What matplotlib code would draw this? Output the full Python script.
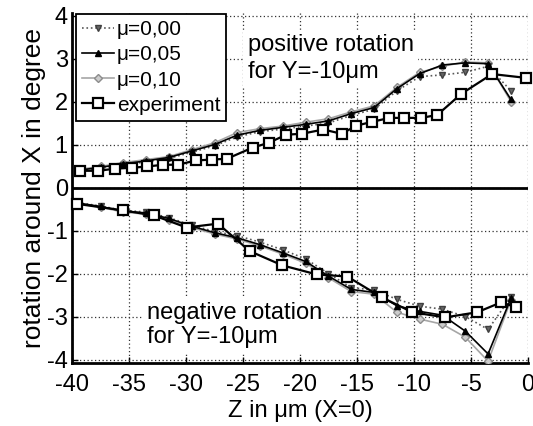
import matplotlib.pyplot as plt
import numpy as np

plt.rcParams['font.family'] = ['Liberation Sans', 'DejaVu Sans']
plt.rcParams['axes.unicode_minus'] = False

# simulation grid (same for all three friction values)
z_sim = [-39.5, -37.5, -35.5, -33.5, -31.5, -29.5, -27.5, -25.5, -23.5, -21.5,
         -19.5, -17.5, -15.5, -13.5, -11.5, -9.5, -7.5, -5.5, -3.5, -1.5]

# positive rotation branch
pos_mu000 = [0.38, 0.45, 0.52, 0.60, 0.68, 0.82, 0.97, 1.18, 1.30, 1.36,
             1.43, 1.50, 1.68, 1.82, 2.25, 2.58, 2.62, 2.68, 2.82, 2.25]
pos_mu005 = [0.40, 0.47, 0.55, 0.62, 0.70, 0.85, 1.00, 1.22, 1.33, 1.40,
             1.47, 1.55, 1.72, 1.86, 2.30, 2.65, 2.85, 2.90, 2.88, 2.05]
pos_mu010 = [0.42, 0.49, 0.58, 0.65, 0.72, 0.88, 1.04, 1.28, 1.37, 1.43,
             1.52, 1.60, 1.76, 1.90, 2.33, 2.68, 2.82, 2.92, 2.90, 2.00]

# negative rotation branch
neg_mu000 = [-0.35, -0.43, -0.53, -0.57, -0.70, -0.88, -1.02, -1.12, -1.27, -1.45,
             -1.66, -2.00, -2.33, -2.38, -2.60, -2.76, -2.83, -3.00, -3.30, -2.55]
neg_mu005 = [-0.36, -0.44, -0.55, -0.59, -0.72, -0.90, -1.05, -1.17, -1.33, -1.52,
             -1.72, -2.06, -2.37, -2.44, -2.75, -2.88, -2.97, -3.34, -3.87, -2.58]
neg_mu010 = [-0.37, -0.46, -0.57, -0.62, -0.75, -0.93, -1.08, -1.20, -1.36, -1.55,
             -1.76, -2.10, -2.42, -2.48, -2.90, -3.06, -3.18, -3.48, -4.04, -2.62]

# experiment
z_exp_pos = [-39.3, -37.7, -36.2, -34.75, -33.4, -32.0, -30.7, -29.15, -27.75, -26.4,
             -24.15, -22.75, -21.2, -19.85, -17.95, -16.35, -15.05, -13.65, -12.15, -10.85,
             -9.35, -7.95, -5.85, -3.15, -0.15]
exp_pos = [0.39, 0.39, 0.44, 0.46, 0.49, 0.53, 0.53, 0.63, 0.65, 0.67,
           0.93, 1.04, 1.23, 1.25, 1.35, 1.25, 1.44, 1.53, 1.62, 1.62,
           1.62, 1.69, 2.18, 2.64, 2.55]
z_exp_neg = [-39.55, -35.55, -32.8, -29.95, -27.2, -24.4, -21.55, -18.55, -15.85, -12.85,
             -10.15, -7.25, -4.45, -2.35, -1.05]
exp_neg = [-0.38, -0.53, -0.65, -0.93, -0.84, -1.48, -1.81, -2.02, -2.07, -2.55,
           -2.90, -3.02, -2.90, -2.67, -2.78]

fig = plt.figure(figsize=(5.33, 4.26), dpi=100)
ax = fig.add_axes([0.1351, 0.1490, 0.8555, 0.8195])

sty000 = dict(color='0.35', ls=':', lw=1.2, marker='v', ms=5, mfc='0.4', mec='0.25')
sty005 = dict(color='black', ls='-', lw=1.2, marker='^', ms=5, mfc='black', mec='black')
sty010 = dict(color='0.65', ls='-', lw=1.2, marker='D', ms=4, mfc='0.8', mec='0.55')
styexp = dict(color='black', ls='-', lw=1.6, marker='s', ms=7.5, mfc='white',
              mec='black', mew=1.6, clip_on=False)

ax.plot(z_sim, pos_mu000, label='\u03bc=0,00', zorder=4, **sty000)
ax.plot(z_sim, pos_mu005, label='\u03bc=0,05', zorder=4, **sty005)
ax.plot(z_sim, pos_mu010, label='\u03bc=0,10', zorder=3, **sty010)
ax.plot(z_exp_pos, exp_pos, label='experiment', zorder=5, **styexp)

ax.plot(z_sim, neg_mu000, zorder=4, **sty000)
ax.plot(z_sim, neg_mu005, zorder=4, **sty005)
ax.plot(z_sim, neg_mu010, zorder=3, **sty010)
ax.plot(z_exp_neg, exp_neg, zorder=5, **styexp)

ax.axhline(0, color='black', lw=2, zorder=2)

ax.set_xlim(-40, 0)
ax.set_ylim(-4.07, 4.05)
ax.set_xticks(np.arange(-40, 1, 5))
ax.set_yticks(np.arange(-4, 5, 1))
ax.grid(True, color='0.2', ls=(0, (1, 2)), lw=0.9)
ax.tick_params(direction='in', length=4, labelsize=17, width=1)
ax.tick_params(axis='x', pad=8)
ax.tick_params(axis='y', pad=3)
for s in ['top', 'right']:
    ax.spines[s].set_visible(False)
for s in ['left', 'bottom']:
    ax.spines[s].set_linewidth(2)

ax.set_xlabel('Z in \u03bcm (X=0)', fontsize=17, labelpad=3)
ax.set_ylabel('rotation around X in degree', fontsize=19, labelpad=1)

# white box behind the notes hides the grid, the curves stay on top
box = dict(facecolor='white', edgecolor='none', pad=3)
ax.text(-24.6, 3.0, 'positive rotation\nfor Y=-10\u03bcm', fontsize=17,
        va='center', ha='left', linespacing=1.25, bbox=box, zorder=2.5)
ax.text(-33.4, -3.2, 'negative rotation\nfor Y=-10\u03bcm', fontsize=17,
        va='center', ha='left', linespacing=1.15, bbox=box, zorder=2.5)

leg = ax.legend(loc='upper left', bbox_to_anchor=(0.009, 0.999), borderaxespad=0,
                fontsize=15, handlelength=1.5, handletextpad=0.15, labelspacing=0.3,
                borderpad=0.3, fancybox=False, framealpha=1, edgecolor='black')
leg.get_frame().set_linewidth(1.3)
leg.set_zorder(7)

fig.savefig('out.png', dpi=100)
